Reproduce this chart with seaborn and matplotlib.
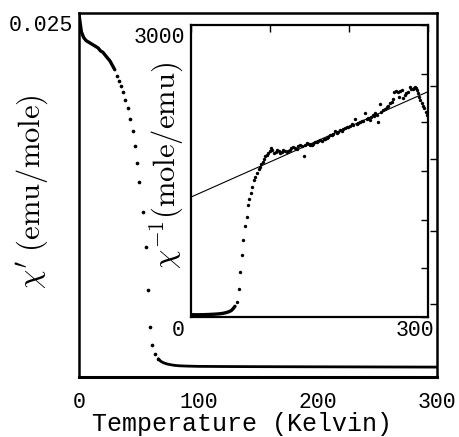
import matplotlib
import matplotlib.pyplot as plt
import matplotlib.transforms as mtransforms
import seaborn as sns

matplotlib.use("Agg")

# main panel: chi' vs T
main_line_T = [0, 0.5, 1, 1.5, 2, 3, 4, 5, 6, 8, 10, 12, 14, 16, 18, 20, 22, 24, 26, 28, 30]
main_line_chi = [0.0249, 0.0246, 0.0243, 0.0240, 0.0237, 0.0235, 0.0233, 0.0232, 0.0231, 0.0230,
                 0.0229, 0.0228, 0.0227, 0.0226, 0.0224, 0.0223, 0.0221, 0.0219, 0.0217, 0.0214, 0.0211]
main_dot_T = [31.6, 33.5, 35.2, 37.1, 38.8, 40.8, 42.7, 45.3, 46.9, 48.9, 50.5,
              53.9, 55.9, 57.6, 59.5, 61.4, 63.7, 66.5]
main_dot_chi = [0.02067, 0.02034, 0.01999, 0.0196, 0.01902, 0.01845, 0.0177, 0.01692, 0.01589,
                0.01472, 0.01337, 0.01135, 0.00891, 0.00598, 0.00345, 0.0022, 0.00158, 0.00125]
main_tail_T = [66.5, 68.5, 71, 74, 77, 80, 84, 90, 100, 120, 150, 200, 250, 300]
main_tail_chi = [0.00125, 0.00108, 0.00097, 0.00089, 0.00084, 0.00080, 0.00077, 0.00075,
                 0.00073, 0.00072, 0.00071, 0.00070, 0.00069, 0.00068]

# inset: 1/chi vs T
inset_low_T = [0, 5, 10, 15, 20, 25, 30, 35, 40, 44, 48, 51, 53, 55.7]
inset_low_inv = [24, 23, 23, 24, 25, 27, 29, 32, 37, 44, 54, 66, 82, 110]
inset_T = [58.2, 60.4, 62.0, 64.2, 65.8, 68.4, 70.5, 72.5, 73.8, 76.0, 77.6, 79.8, 81.0, 84.0,
           86.0, 87.5, 89.0, 90.7, 92.5, 94.0, 96.0, 98.0, 100.0, 101.5, 103.0, 105.0, 107.0,
           109.0, 111.0, 113.0, 115.0, 117.0, 119.0, 121.0, 123.0, 125.0, 127.0, 129.5, 131.5,
           133.8, 136.0, 138.0, 140.0, 143.0, 144.5, 146.5, 149.0, 151.0, 152.8, 155.0, 157.0,
           159.0, 161.0, 163.0, 165.5, 168.0, 170.0, 172.0, 174.0, 176.0, 178.0, 180.0, 182.0,
           184.5, 186.5, 188.6, 191.0, 193.0, 195.0, 197.0, 199.0, 201.0, 203.4, 205.0, 207.6,
           209.8, 212.0, 214.0, 216.0, 218.0, 220.0, 222.4, 224.5, 226.6, 228.5, 230.0, 232.0,
           233.0, 235.0, 237.0, 239.0, 241.0, 243.5, 245.5, 247.7, 250.0, 252.0, 254.0, 256.0,
           257.0, 259.5, 262.5, 263.0, 264.5, 266.7, 269.0, 270.5, 272.0, 275.0, 277.0, 279.0,
           280.6, 282.0, 283.6, 285.0, 286.5, 288.0, 289.0, 290.5, 292.0, 293.5, 295.0, 297.5, 299.0]
inset_inv = [157, 284, 459, 637, 791, 931, 1030, 1150, 1209, 1277, 1338, 1407, 1441, 1482,
             1520, 1545, 1570, 1595, 1625, 1650, 1668, 1690, 1710, 1735, 1712, 1690, 1700,
             1720, 1705, 1690, 1700, 1712, 1705, 1698, 1710, 1718, 1735, 1745, 1738,
             1730, 1752, 1766, 1758, 1653, 1772, 1784, 1775, 1770, 1766, 1782, 1795,
             1800, 1808, 1818, 1811, 1825, 1832, 1835, 1850, 1869, 1865, 1880, 1913,
             1893, 1905, 1920, 1912, 1930, 1945, 1954, 1948, 1965, 1982, 1975, 2030,
             1982, 1995, 2005, 2016, 2010, 2092, 2030, 2040, 2023, 2050, 2075, 2060,
             2092, 2080, 2006, 2184, 2110, 2126, 2140, 2160, 2170, 2195, 2210, 2236,
             2314, 2318, 2314, 2262, 2325, 2331, 2246, 2280, 2297, 2314, 2365, 2345,
             2338, 2355, 2365, 2350, 2331, 2300, 2262, 2230, 2195, 2170, 2143, 2109, 2075]
fit_T = [0, 300]
fit_inv = [1232, 2315]

sns.set_theme(style="white")
plt.rcParams["font.family"] = ["Liberation Mono", "DejaVu Sans"]
plt.rcParams["mathtext.fontset"] = "cm"

fig = plt.figure(figsize=(4.59, 4.37), dpi=100)
ax = fig.add_axes([0.1721, 0.1373, 0.7800, 0.8330])
ax_in = fig.add_axes([0.4161, 0.2746, 0.5163, 0.6682])


def shift(labels, dx, dy):
    off = mtransforms.ScaledTranslation(dx / 100, dy / 100, fig.dpi_scale_trans)
    for lab in labels:
        lab.set_transform(lab.get_transform() + off)


# main panel
sns.lineplot(x=main_line_T, y=main_line_chi, ax=ax, color="black", linewidth=2.4, sort=False)
sns.scatterplot(x=main_dot_T, y=main_dot_chi, ax=ax, color="black", s=7, linewidth=0)
sns.lineplot(x=main_tail_T, y=main_tail_chi, ax=ax, color="black", linewidth=2.0, sort=False)
ax.set_xlim(0, 300)
ax.set_ylim(0, 0.025)
ax.set_xticks([0, 50, 100, 150, 200, 250, 300], labels=["0", "", "100", "", "200", "", "300"])
ax.set_yticks([0, 0.005, 0.010, 0.015, 0.020, 0.025], labels=["", "", "", "", "", "0.025"])
ax.tick_params(axis="both", direction="in", length=5, width=1, color="black",
               labelsize=15.5, labelcolor="black")
ax.tick_params(axis="x", pad=11)
ax.tick_params(axis="y", pad=4, right=True)
shift(ax.get_yticklabels(), 0, -10)
for sp in ax.spines.values():
    sp.set_color("black")
    sp.set_linewidth(1.8)
ax.spines["bottom"].set_linewidth(2.2)
ax.set_xlabel("Temperature (Kelvin)", fontsize=18, color="black")
ax.xaxis.set_label_coords(0.455, -0.095)
ax.set_ylabel(r"$\chi'\ \mathrm{(emu/mole)}$", fontsize=22, color="black")
ax.yaxis.set_label_coords(-0.08, 0.51)

# inset
ax_in.set_facecolor("white")
sns.lineplot(x=fit_T, y=fit_inv, ax=ax_in, color="black", linewidth=0.8)
sns.lineplot(x=inset_low_T, y=inset_low_inv, ax=ax_in, color="black", linewidth=2.4, sort=False)
sns.scatterplot(x=inset_T, y=inset_inv, ax=ax_in, color="black", s=6, linewidth=0)
ax_in.set_xlim(0, 300)
ax_in.set_ylim(0, 3000)
ax_in.set_xticks([0, 100, 200, 300], labels=["0", "", "", "300"])
ax_in.set_yticks([0, 500, 1000, 1500, 2000, 2500, 3000], labels=["", "", "", "", "", "", "3000"])
ax_in.tick_params(axis="both", direction="in", length=5, width=1, color="black",
                  labelsize=15.5, labelcolor="black", top=True, right=True)
ax_in.tick_params(axis="x", pad=2)
ax_in.tick_params(axis="y", pad=4)
shift(ax_in.get_xticklabels(), -13, 0)
shift(ax_in.get_yticklabels(), 0, -10)
for sp in ax_in.spines.values():
    sp.set_color("black")
    sp.set_linewidth(1.6)
ax_in.set_ylabel(r"$\chi^{-1}\mathrm{(mole/emu)}$", fontsize=22, color="black")
ax_in.yaxis.set_label_coords(-0.023, 0.52)

fig.savefig("out.png", dpi=100)
